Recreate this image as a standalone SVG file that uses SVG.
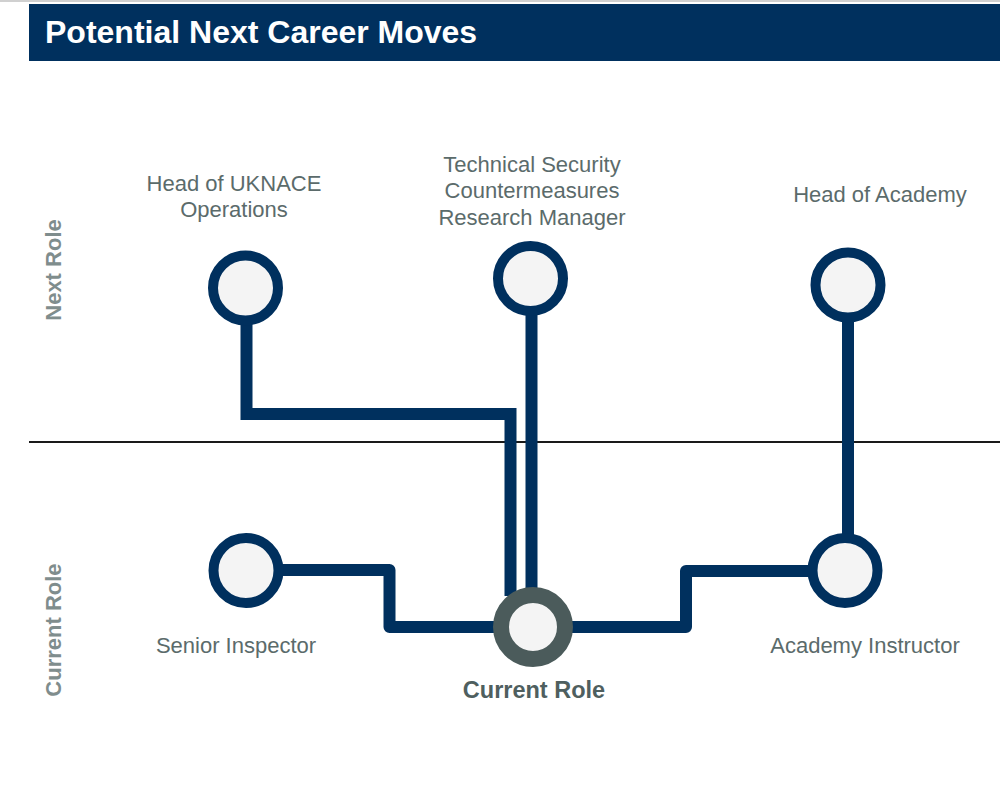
<svg xmlns="http://www.w3.org/2000/svg" width="1000" height="793" viewBox="0 0 1000 793">
<style>
.lbl{font-family:"Liberation Sans",Arial,sans-serif;font-size:22px;fill:#5b6b6b;text-anchor:middle}
.side{font-family:"Liberation Sans",Arial,sans-serif;font-size:22px;font-weight:bold;fill:#7f8d8d;text-anchor:middle}
.node{fill:#f4f4f4;stroke:#00305e;stroke-width:10}
.conn{fill:none;stroke:#00305e;stroke-width:12}
</style>
<rect x="0" y="0" width="1000" height="793" fill="#ffffff"/>
<rect x="0" y="0" width="1000" height="2" fill="#d0d0d0"/>
<g id="header">
<rect x="29" y="4" width="971" height="57" fill="#00305e"/>
<text x="45" y="43" font-family="'Liberation Sans',Arial,sans-serif" font-size="32" font-weight="bold" fill="#ffffff">Potential Next Career Moves</text>
</g>
<line x1="29" y1="442" x2="1000" y2="442" stroke="#1a1a1a" stroke-width="2"/>
<text class="side" transform="translate(61,270) rotate(-90)">Next Role</text>
<text class="side" transform="translate(61,630) rotate(-90)">Current Role</text>
<g id="connectors">
<polyline class="conn" stroke-linejoin="miter" points="246.5,320 246.5,414 510.5,414 510.5,596"/>
<line class="conn" x1="531.5" y1="310" x2="531.5" y2="600"/>
<line class="conn" x1="848" y1="318" x2="848" y2="540"/>
<polyline class="conn" stroke-linejoin="round" points="278,570 389.5,570 389.5,627 500,627"/>
<polyline class="conn" stroke-linejoin="round" points="812,571 686,571 686,627 560,627"/>
</g>
<g id="uknace">
<circle class="node" cx="245.5" cy="288" r="32.5"/>
<text class="lbl" x="234" y="191">Head of UKNACE</text>
<text class="lbl" x="234" y="217">Operations</text>
</g>
<g id="tscm">
<circle class="node" cx="530.5" cy="278.5" r="32.5"/>
<text class="lbl" x="532" y="172">Technical Security</text>
<text class="lbl" x="532" y="198">Countermeasures</text>
<text class="lbl" x="532" y="225">Research Manager</text>
</g>
<g id="head-academy">
<circle class="node" cx="848" cy="285" r="32.5"/>
<text class="lbl" x="880" y="202">Head of Academy</text>
</g>
<g id="senior-inspector">
<circle class="node" cx="246" cy="570.5" r="32.5"/>
<text class="lbl" x="236" y="653">Senior Inspector</text>
</g>
<g id="academy-instructor">
<circle class="node" cx="845" cy="570.5" r="32.5"/>
<text class="lbl" x="865" y="653">Academy Instructor</text>
</g>
<g id="current-role">
<circle cx="533" cy="627" r="32" fill="#f4f4f4" stroke="#4b5b5b" stroke-width="16"/>
<text x="534" y="698" font-family="'Liberation Sans',Arial,sans-serif" font-size="23.5" font-weight="bold" fill="#4f5f5f" text-anchor="middle">Current Role</text>
</g>
</svg>
